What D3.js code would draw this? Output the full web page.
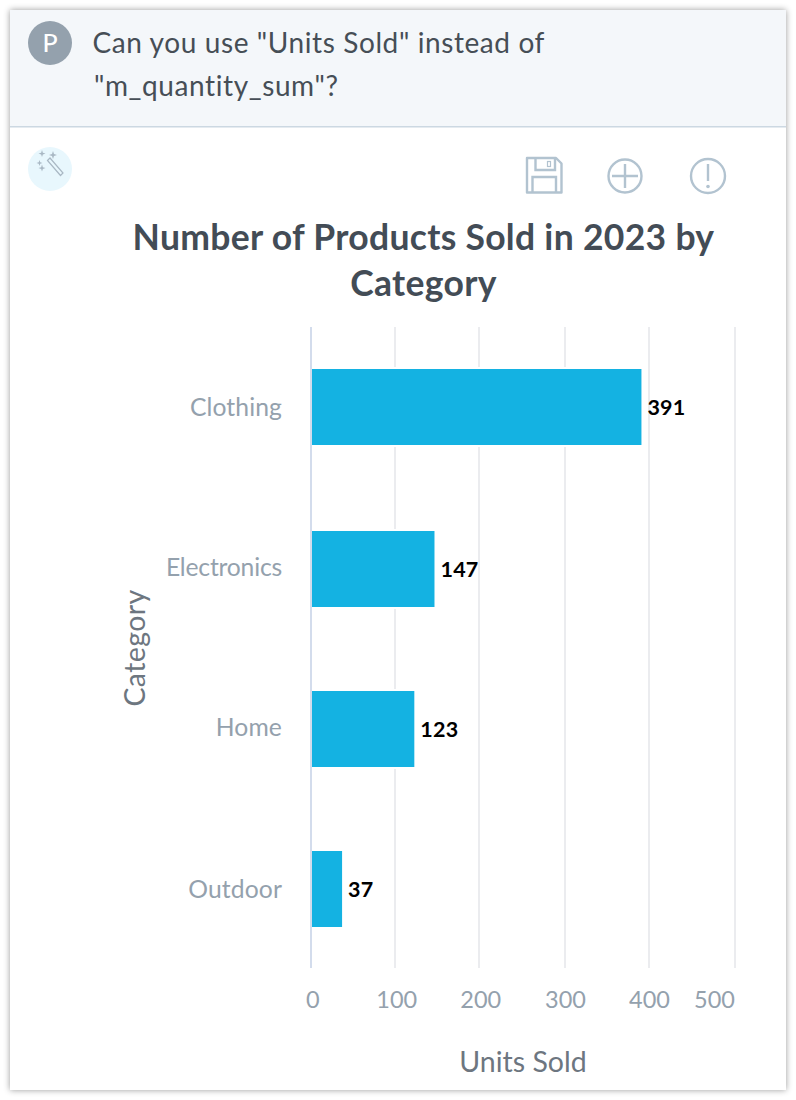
<!DOCTYPE html>
<html>
<head>
<meta charset="utf-8">
<script src="https://cdn.jsdelivr.net/npm/d3@7"></script>
<style>
html,body{margin:0;padding:0;background:#fff;}
svg{display:block;font-family:Lato,"Open Sans",sans-serif;}
</style>
</head>
<body>
<svg id="chart" width="796" height="1100"></svg>
<script>
var categories=['Clothing','Electronics','Home','Outdoor'];
var unitsSold=[391,147,123,37];
var xTicks=[0,100,200,300,400,500];
var questionLines=['Can you use "Units Sold" instead of','"m_quantity_sum"?'];
var titleLines=['Number of Products Sold in 2023 by','Category'];

var svg=d3.select('#chart');

// card with soft shadow
var defs=svg.append('defs');
var blur=defs.append('filter').attr('id','shadow')
  .attr('x','-5%').attr('y','-5%').attr('width','110%').attr('height','110%');
blur.append('feDropShadow').attr('dx',0).attr('dy',0)
  .attr('stdDeviation',3).attr('flood-color','#000').attr('flood-opacity',0.4);

svg.append('rect').attr('x',10).attr('y',10).attr('width',776).attr('height',1080)
  .attr('fill','#fff').attr('filter','url(#shadow)');

// question header
svg.append('rect').attr('x',10).attr('y',10).attr('width',776).attr('height',116).attr('fill','#f4f7fa');
svg.append('rect').attr('x',10).attr('y',126).attr('width',776).attr('height',1.5).attr('fill','#ccd8e2');
svg.append('circle').attr('cx',50).attr('cy',43).attr('r',22).attr('fill','#94a1ad');
svg.append('text').attr('x',50).attr('y',52).attr('text-anchor','middle')
  .attr('font-size',25).attr('font-weight',500).attr('fill','#fff').text('P');
svg.selectAll('.question').data(questionLines).join('text')
  .attr('class','question')
  .attr('x',function(d,i){return i==0?92.5:94;})
  .attr('y',function(d,i){return 53+i*43;})
  .attr('font-size',28).attr('letter-spacing',0.6).attr('fill','#464e56')
  .text(function(d){return d;});

// wand icon
var wand=svg.append('g');
wand.append('circle').attr('cx',50).attr('cy',169).attr('r',22).attr('fill','#e8f7fd');
wand.append('path').attr('d','M47.500,160.500 L50,158 L63,173 L60.500,175.500 Z')
  .attr('fill','none').attr('stroke','#a9b8c4').attr('stroke-width',1.2);
var sparkles=[[42,153.500,3.5],[53,155,4],[39.500,163,3],[42,168,3.5]];
wand.selectAll('.spark').data(sparkles).join('path')
  .attr('class','spark')
  .attr('d',function(d){
    var x=d[0],y=d[1],r=d[2],q=r*0.25;
    return 'M'+x+','+(y-r)+'L'+(x+q)+','+(y-q)+'L'+(x+r)+','+y+'L'+(x+q)+','+(y+q)
      +'L'+x+','+(y+r)+'L'+(x-q)+','+(y+q)+'L'+(x-r)+','+y+'L'+(x-q)+','+(y-q)+'Z';
  })
  .attr('fill','#a9b8c4');

// toolbar icons
var iconCol='#b2c3d0';
var tools=svg.append('g').attr('fill','none').attr('stroke',iconCol).attr('stroke-width',2.4);
tools.append('path').attr('d','M527,158 L556,158 L561.500,163.500 L561.500,192.500 L527,192.500 Z').attr('stroke-linejoin','round');
tools.append('path').attr('d','M535.500,158 L535.500,170 L555,170 L555,159');
tools.append('rect').attr('x',547.500).attr('y',161.500).attr('width',3).attr('height',5).attr('stroke-width',1.2);
tools.append('path').attr('d','M532.500,192.500 L532.500,177 L556,177 L556,192.500');
tools.append('circle').attr('cx',625).attr('cy',176).attr('r',16.500);
tools.append('path').attr('d','M625,164 L625,188 M612,176 L638,176');
tools.append('circle').attr('cx',708).attr('cy',176).attr('r',17);
tools.append('path').attr('d','M708,164 L708,181');
tools.append('circle').attr('cx',708).attr('cy',186.500).attr('r',1.8).attr('fill',iconCol).attr('stroke','none');

// title
svg.selectAll('.title').data(titleLines).join('text')
  .attr('class','title')
  .attr('x',423.500)
  .attr('y',function(d,i){return 250+i*46;})
  .attr('text-anchor','middle').attr('font-size',35.5).attr('font-weight',700)
  .attr('letter-spacing',0.3).attr('fill','#434c56')
  .text(function(d){return d;});

// scales, the reference's gridlines are not evenly spaced
var x=d3.scaleLinear().domain(xTicks).range([311,395,479,565,649,735]);
var y=d3.scaleOrdinal().domain(categories).range([407,569,729,889]);
var barH=76;

// gridlines and axes
svg.selectAll('.grid').data(xTicks.slice(1)).join('line')
  .attr('class','grid')
  .attr('x1',function(d){return x(d);}).attr('x2',function(d){return x(d);})
  .attr('y1',327).attr('y2',968)
  .attr('stroke','#e6e8eb').attr('stroke-width',1.6);

var xAxis=d3.axisBottom(x).tickValues(xTicks).tickSize(0).tickPadding(0);
var xG=svg.append('g').attr('transform','translate(0,1008)').call(xAxis);
xG.select('.domain').remove();
xG.selectAll('text')
  .attr('y',0).attr('dy',0)
  .attr('dx',function(d){return d==500?-21:(d>=300?0:1.2);})
  .attr('font-family','Lato,"Open Sans",sans-serif')
  .attr('font-size',23.5).attr('fill','#94a1ad');

var yAxis=d3.axisLeft(y).tickSize(0).tickPadding(29);
var yG=svg.append('g').attr('transform','translate(311,0)').call(yAxis);
yG.select('.domain').remove();
yG.selectAll('text')
  .attr('dy',function(d,i){return (i==1||i==2)?6:8;})
  .attr('font-family','Lato,"Open Sans",sans-serif')
  .attr('font-size',24.7)
  .attr('letter-spacing',function(d,i){return i==1?-0.2:0.1;})
  .attr('fill','#94a1ad');

// bars, white outline cuts the gridlines
var data=categories.map(function(c,i){return {cat:c,val:unitsSold[i]};});
svg.selectAll('.bar').data(data).join('rect')
  .attr('class','bar')
  .attr('x',x(0)+1)
  .attr('y',function(d){return y(d.cat)-barH/2;})
  .attr('width',function(d){return x(d.val)-x(0)-1;})
  .attr('height',barH)
  .attr('fill','#14b2e2')
  .attr('stroke','#fff').attr('stroke-width',4).attr('paint-order','stroke');
// axis line goes on top of the outline
svg.append('line').attr('x1',x(0)).attr('x2',x(0)).attr('y1',327).attr('y2',968)
  .attr('stroke','#c8d4e8').attr('stroke-width',1.6);

svg.selectAll('.val').data(data).join('text')
  .attr('class','val')
  .attr('x',function(d){return x(d.val)+6;})
  .attr('y',function(d){return y(d.cat)+8.3;})
  .attr('font-size',21.5).attr('font-weight',700).attr('letter-spacing',0.2).attr('fill','#000')
  .text(function(d){return d.val;});

// axis titles
svg.append('text').attr('x',523).attr('y',1071.500).attr('text-anchor','middle')
  .attr('font-size',28.5).attr('fill','#6d7680').text('Units Sold');
svg.append('text').attr('transform','translate(145,648) rotate(-90)').attr('text-anchor','middle')
  .attr('font-size',28.5).attr('letter-spacing',0.4).attr('fill','#6d7680').text('Category');
</script>
</body>
</html>
